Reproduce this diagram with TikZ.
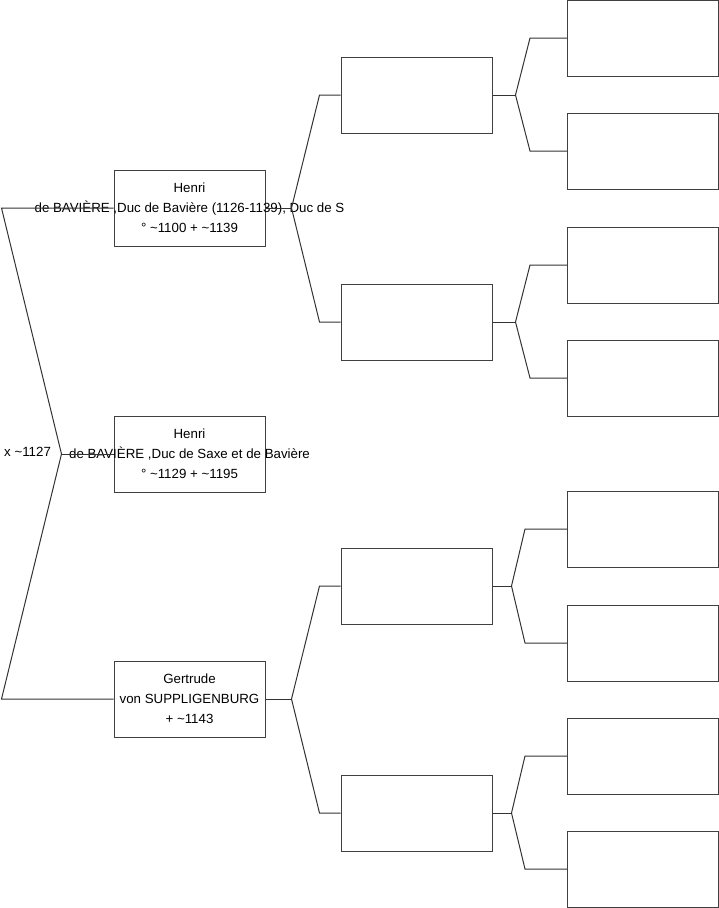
\documentclass[tikz,border=0pt]{standalone}
\usepackage{fontspec}
\setmainfont{Liberation Sans}

\begin{document}
\begin{tikzpicture}[x=1pt, y=-1pt,
    person/.style={draw=black!75, line width=1pt, minimum width=151pt,
      minimum height=76pt, inner sep=0pt, align=center,
      font=\fontsize{13.3}{20}\selectfont},
    branch/.style={black!80, line width=1pt}]

  \useasboundingbox (0,0) rectangle (719,908);

  % === Generation 1: the child and both parents ===
  \node[person] (father) at (189.5,208)
    {Henri\\\makebox[0pt]{de BAVIÈRE ,Duc de Bavière (1126-1139), Duc de S}\\
     ° \textasciitilde1100 + \textasciitilde1139};
  \node[person] (child) at (189.5,454)
    {Henri\\\makebox[0pt]{de BAVIÈRE ,Duc de Saxe et de Bavière}\\
     ° \textasciitilde1129 + \textasciitilde1195};
  \node[person] (mother) at (189.5,699)
    {Gertrude\\von SUPPLIGENBURG\\+ \textasciitilde1143};

  % marriage label
  \node[anchor=west, inner sep=0pt, font=\fontsize{13.3}{20}\selectfont]
    (wedding) at (4,452) {x \textasciitilde1127};

  % === Generation 2: grandparents (empty) ===
  \foreach \i/\y in {1/95, 2/322, 3/586, 4/813}
    \node[person] (g\i) at (416.5,\y) {};

  % === Generation 3: great-grandparents (empty) ===
  \foreach \i/\y in {1/38, 2/151, 3/265, 4/378, 5/529, 6/643, 7/756, 8/869}
    \node[person] (h\i) at (643,\y) {};

  % === Connectors ===
  % child to both parents
  \draw[branch] (father.west) -- ++(-112,0) -- ([xshift=-52pt]child.west)
    -- ([xshift=-112pt]mother.west) -- (mother.west);
  \draw[branch] ([xshift=-52pt]child.west) -- (child.west);

  % parents to grandparents
  \foreach \p/\a/\b in {father/g1/g2, mother/g3/g4} {
    \draw[branch] (\a.west) -- ++(-21,0) -- ([xshift=26pt]\p.east)
      -- ([xshift=-21pt]\b.west) -- (\b.west);
    \draw[branch] ([xshift=26pt]\p.east) -- (\p.east);
  }

  % grandparents to great-grandparents
  \foreach \p/\a/\b/\v/\e in {g1/h1/h2/23/37, g2/h3/h4/23/37,
                              g3/h5/h6/19/42, g4/h7/h8/19/42} {
    \draw[branch] (\a.west) -- ++(-\e,0) -- ([xshift=\v pt]\p.east)
      -- ([xshift=-\e pt]\b.west) -- (\b.west);
    \draw[branch] ([xshift=\v pt]\p.east) -- (\p.east);
  }

\end{tikzpicture}
\end{document}
